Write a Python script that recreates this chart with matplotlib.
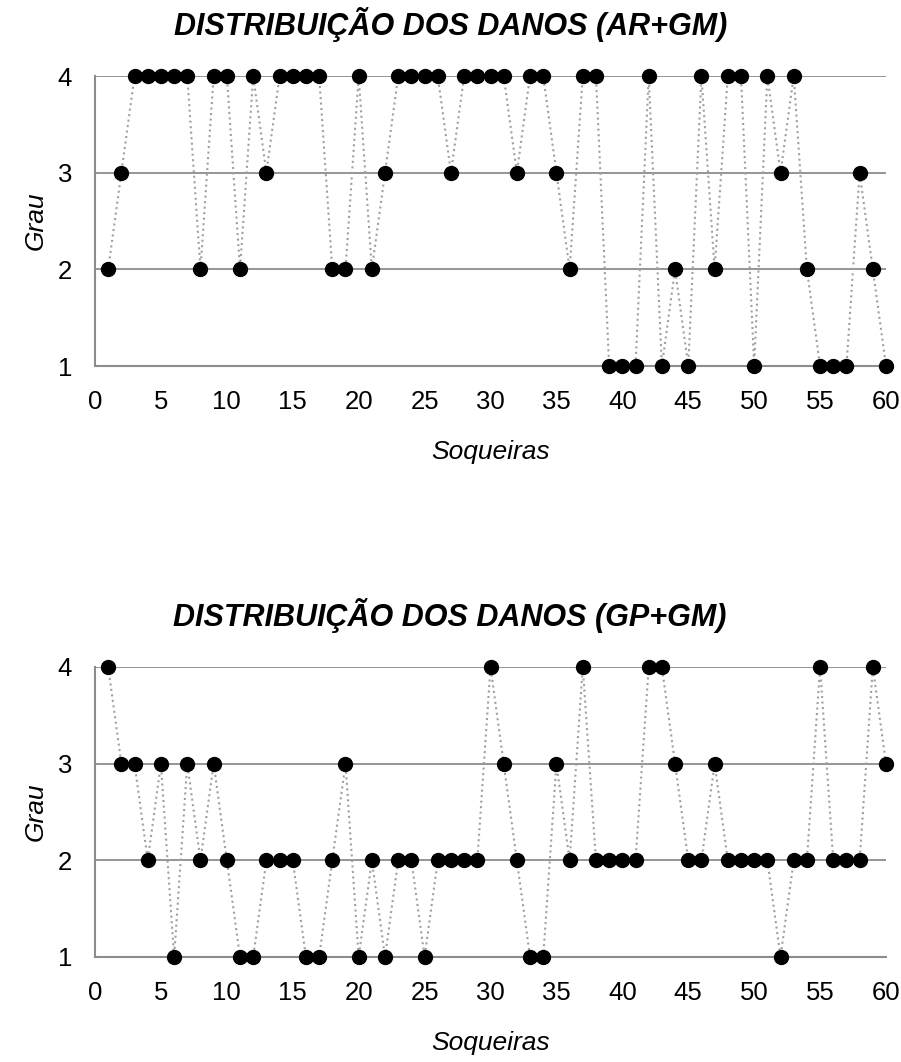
import matplotlib
matplotlib.use("Agg")
import matplotlib.pyplot as plt

soqueiras = list(range(1, 61))
grau_ar_gm = [2, 3, 4, 4, 4, 4, 4, 2, 4, 4, 2, 4, 3, 4, 4, 4, 4, 2, 2, 4,
              2, 3, 4, 4, 4, 4, 3, 4, 4, 4, 4, 3, 4, 4, 3, 2, 4, 4, 1, 1,
              1, 4, 1, 2, 1, 4, 2, 4, 4, 1, 4, 3, 4, 2, 1, 1, 1, 3, 2, 1]
grau_gp_gm = [4, 3, 3, 2, 3, 1, 3, 2, 3, 2, 1, 1, 2, 2, 2, 1, 1, 2, 3, 1,
              2, 1, 2, 2, 1, 2, 2, 2, 2, 4, 3, 2, 1, 1, 3, 2, 4, 2, 2, 2,
              2, 4, 4, 3, 2, 2, 3, 2, 2, 2, 2, 1, 2, 2, 4, 2, 2, 2, 4, 3]
titles = ["DISTRIBUIÇÃO DOS DANOS (AR+GM)", "DISTRIBUIÇÃO DOS DANOS (GP+GM)"]
x_ticks = list(range(0, 61, 5))
y_ticks = [1, 2, 3, 4]
x_label = "Soqueiras"
y_label = "Grau"

plt.rcParams['font.family'] = ['Liberation Sans', 'DejaVu Sans']

W, H = 901, 1062
fig = plt.figure(figsize=(W / 100, H / 100), dpi=100)

left_px, right_px = 95, 886
boxes = [(76, 366), (667, 957)]
series = [grau_ar_gm, grau_gp_gm]

for (top_px, bot_px), vals, title in zip(boxes, series, titles):
    ax = fig.add_axes([left_px / W, 1 - bot_px / H,
                       (right_px - left_px) / W, (bot_px - top_px) / H])
    ax.set_xlim(0, 60)
    ax.set_ylim(1, 4)
    for yv in [2, 3, 4]:
        ax.axhline(yv, color='#8c8c8c', lw=1.3, zorder=1)
    ax.plot(soqueiras, vals, linestyle=':', color='#a0a0a0', lw=1.5,
            marker='o', markersize=10, markerfacecolor='black',
            markeredgecolor='black', clip_on=False, zorder=3)
    for s in ['top', 'right']:
        ax.spines[s].set_visible(False)
    for s in ['left', 'bottom']:
        ax.spines[s].set_color('#8c8c8c')
        ax.spines[s].set_linewidth(1.5)
    ax.set_xticks(x_ticks)
    ax.set_yticks(y_ticks)
    ax.tick_params(axis='x', length=0, pad=17, labelsize=18.5)
    ax.tick_params(axis='y', length=0, pad=16.5, labelsize=18.5)
    ax.set_xlabel(x_label, fontsize=19, style='italic', va='center')
    ax.xaxis.set_label_coords(0.5, -0.297)
    ax.set_ylabel(y_label, fontsize=19, style='italic', va='center')
    ax.yaxis.set_label_coords(-0.075, 0.5)
    ax.text(0.449, 1.141, title, transform=ax.transAxes, ha='center',
            va='baseline', fontsize=22, fontweight='bold', style='italic')
    ax.patch.set_alpha(0)

fig.savefig("out.png", dpi=100)
